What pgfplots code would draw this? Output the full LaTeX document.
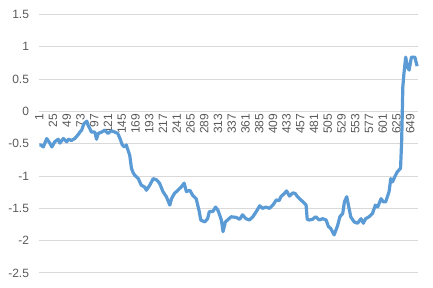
\documentclass[border=0pt]{standalone}
\usepackage{pgfplots}
\pgfplotsset{compat=1.18}
\usepackage{fontspec}
\setmainfont{Liberation Sans}
\definecolor{linecol}{HTML}{5B9BD5}
\definecolor{gridcol}{HTML}{D9D9D9}
\definecolor{labcol}{HTML}{595959}
\begin{document}
\begin{tikzpicture}
\useasboundingbox (-29.25pt,-11.25pt) rectangle (295.5pt,204.75pt);
\begin{axis}[
  at={(0,0)}, anchor=south west,
  scale only axis,
  width=284.25pt, height=193.9pt,
  xmin=0.5, xmax=662.5,
  ymin=-2.5, ymax=1.5,
  axis y line=left,
  axis x line=middle,
  axis line style={draw=gridcol, line width=0.75pt, -},
  y axis line style={draw=none},
  ytick={-2.5,-2,-1.5,-1,-0.5,0,0.5,1,1.5},
  yticklabels={-2.5,-2,-1.5,-1,-0.5,0,0.5,1,1.5},
  xtick={1,25,...,649},
  /pgf/number format/assume math mode=true,
  ymajorgrids,
  grid style={draw=gridcol, line width=0.75pt},
  major tick length=0pt,
  tick style={draw=none},
  ticklabel style={font=\fontsize{9}{10}\selectfont, text=labcol},
  yticklabel style={xshift=-4pt},
  xticklabel style={rotate=90, anchor=east, inner sep=1.5pt},
  clip=false,
]
\addplot[color=linecol, line width=2.4pt, line join=round, no marks] coordinates {
(1,-0.52)(4,-0.52)(8,-0.55)(14,-0.42)(20,-0.50)(23,-0.55)(28,-0.47)(34,-0.43)
(37,-0.49)(43,-0.42)(49,-0.47)(52,-0.43)(57,-0.45)(63,-0.42)(68,-0.37)(72,-0.32)
(75,-0.29)(79,-0.19)(84,-0.15)(86,-0.21)(89,-0.26)(92,-0.32)(98,-0.32)(101,-0.43)
(104,-0.34)(110,-0.32)(115,-0.29)(121,-0.34)(127,-0.30)(133,-0.32)(138,-0.34)
(142,-0.42)(146,-0.52)(150,-0.55)(153,-0.52)(156,-0.60)(159,-0.68)(162,-0.88)
(165,-0.95)(168,-0.99)(174,-1.04)(179,-1.14)(185,-1.17)(188,-1.22)(194,-1.14)
(200,-1.04)(206,-1.06)(211,-1.11)(217,-1.24)(223,-1.32)(229,-1.45)(232,-1.35)
(237,-1.27)(243,-1.22)(249,-1.17)(254,-1.11)(258,-1.24)(264,-1.22)(269,-1.30)
(275,-1.35)(280,-1.53)(283,-1.68)(290,-1.71)(295,-1.66)(298,-1.55)(304,-1.55)
(309,-1.48)(313,-1.53)(316,-1.60)(319,-1.68)(322,-1.86)(326,-1.71)(330,-1.68)
(336,-1.63)(345,-1.64)(351,-1.67)(356,-1.60)(362,-1.66)(368,-1.68)(374,-1.63)
(380,-1.55)(386,-1.46)(391,-1.50)(397,-1.48)(403,-1.50)(409,-1.45)(415,-1.37)
(420,-1.38)(423,-1.32)(429,-1.27)(433,-1.23)(438,-1.31)(444,-1.26)(448,-1.27)
(452,-1.32)(458,-1.37)(464,-1.42)(467,-1.45)(469,-1.67)(473,-1.68)(478,-1.67)
(484,-1.63)(490,-1.68)(496,-1.66)(502,-1.68)(506,-1.78)(510,-1.81)(516,-1.91)
(519,-1.84)(522,-1.77)(526,-1.63)(531,-1.58)(534,-1.40)(538,-1.32)(541,-1.45)
(545,-1.63)(551,-1.71)(557,-1.73)(563,-1.66)(567,-1.73)(571,-1.66)(577,-1.63)
(583,-1.58)(588,-1.45)(592,-1.48)(598,-1.35)(602,-1.40)(606,-1.40)(612,-1.24)
(615,-1.04)(618,-1.09)(622,-1.01)(626,-0.94)(632,-0.88)(634,-0.45)(636,0.38)
(638,0.59)(641,0.84)(644,0.69)(647,0.64)(651,0.84)(657,0.84)(661,0.70)
};
\end{axis}
\end{tikzpicture}
\end{document}
